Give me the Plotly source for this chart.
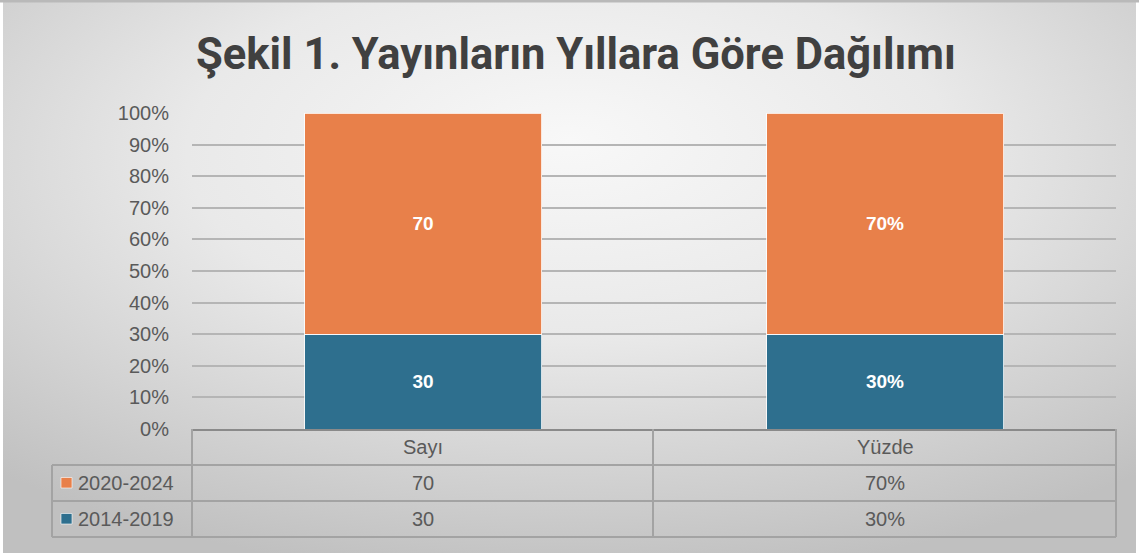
import base64
import plotly.graph_objects as go

# ---- data ----
categories = ["Sayı", "Yüzde"]
series_names = ["2014-2019", "2020-2024"]
values_2014_2019 = [30, 30]
values_2020_2024 = [70, 70]
label_suffix = ["", "%"]
title_text = "Şekil 1. Yayınların Yıllara Göre Dağılımı"
colors = {"2014-2019": "#2E6F8E", "2020-2024": "#E8804A"}

W, H = 1139, 559
L, R, T, B = 192, 23, 113, 130
PW, PH = W - L - R, H - T - B

def px2x(px):
    return (px - L) / PW

def py2y(py):
    return (H - B - py) / PH

totals = [a + b for a, b in zip(values_2014_2019, values_2020_2024)]
series = {"2014-2019": values_2014_2019, "2020-2024": values_2020_2024}

fig = go.Figure()
for name in series_names:
    vals = series[name]
    shares = [v / t for v, t in zip(vals, totals)]
    fig.add_trace(go.Bar(
        x=categories, y=shares, name=name,
        marker=dict(color=colors[name], line=dict(color="rgba(255,255,255,0.8)", width=1)),
        text=[f"{v}{s}" for v, s in zip(vals, label_suffix)],
        textposition="inside", insidetextanchor="middle",
        textfont=dict(family="Liberation Sans, Arial", size=19, color="white", weight="bold"),
        width=0.513, showlegend=False, hoverinfo="skip",
    ))

# background gradient as svg
svg = f'''<svg xmlns="http://www.w3.org/2000/svg" width="1133" height="551" viewBox="0 0 1133 551">
<defs><radialGradient id="g" cx="50%" cy="30%" r="75%" fx="50%" fy="25%">
<stop offset="0" stop-color="#f8f8f8"/><stop offset="0.45" stop-color="#e9e9e9"/>
<stop offset="1" stop-color="#c0c0c0"/></radialGradient></defs>
<rect width="1133" height="551" fill="url(#g)"/></svg>'''
src = "data:image/svg+xml;base64," + base64.b64encode(svg.encode()).decode()
fig.add_layout_image(dict(source=src, xref="paper", yref="paper",
                          x=px2x(3), y=py2y(2), sizex=px2x(1136) - px2x(3),
                          sizey=py2y(2) - py2y(553), sizing="stretch",
                          xanchor="left", yanchor="top", layer="below"))

shapes = []
# top border strip
shapes.append(dict(type="rect", xref="paper", yref="paper", x0=px2x(0), x1=px2x(1139),
                   y0=py2y(2.5), y1=py2y(0), fillcolor="#b9b9b9", line_width=0, layer="below"))

gc = "#a3a3a3"
def hline(y, x0, x1, color=gc, w=2):
    shapes.append(dict(type="line", xref="paper", yref="paper", x0=px2x(x0), x1=px2x(x1),
                       y0=py2y(y), y1=py2y(y), line=dict(color=color, width=w)))
def vline(x, y0, y1, color=gc, w=2):
    shapes.append(dict(type="line", xref="paper", yref="paper", x0=px2x(x), x1=px2x(x),
                       y0=py2y(y0), y1=py2y(y1), line=dict(color=color, width=w)))

row_tops = [429, 465, 501, 537]
for y in row_tops[1:]:
    hline(y, 52, 1116)
vline(192, 429, 537)
vline(653, 429, 537)
vline(1116, 429, 537)
vline(52, 465, 537)

annotations = []
tf = dict(family="Liberation Sans, Arial", size=20, color="#5a5a5a")
for i, c in enumerate(categories):
    annotations.append(dict(x=c, xref="x", y=py2y(447), yref="paper", text=c,
                            showarrow=False, font=tf, xanchor="center", yanchor="middle"))
row_series = ["2020-2024", "2014-2019"]
row_centers = [483, 519]
for name, yc in zip(row_series, row_centers):
    for c, v, s in zip(categories, series[name], label_suffix):
        annotations.append(dict(x=c, xref="x", y=py2y(yc), yref="paper", text=f"{v}{s}",
                                showarrow=False, font=tf, xanchor="center", yanchor="middle"))
    annotations.append(dict(x=px2x(76), xref="paper", y=py2y(yc), yref="paper", text=name,
                            showarrow=False, font=tf, xanchor="left", yanchor="middle"))
    shapes.append(dict(type="rect", xref="paper", yref="paper", x0=px2x(61), x1=px2x(72),
                       y0=py2y(yc - 5.5), y1=py2y(yc + 5), fillcolor=colors[name],
                       line=dict(color="rgba(255,255,255,0.6)", width=1)))

fig.update_layout(
    width=W, height=H,
    margin=dict(l=L, r=R, t=T, b=B),
    barmode="stack",
    paper_bgcolor="white",
    plot_bgcolor="rgba(0,0,0,0)",
    title=dict(text=title_text, x=576 / W, xref="container", xanchor="center",
               y=1 - 54 / H, yref="container", yanchor="middle",
               font=dict(family="Roboto", size=43.5, color="#404040", weight="bold")),
    xaxis=dict(showticklabels=False, ticks="", showline=True, linecolor="#8a8a8a", linewidth=2,
               showgrid=False, zeroline=False, range=[-0.5, 1.5]),
    yaxis=dict(range=[0, 1], dtick=0.1, tickformat=".0%", showgrid=True, gridcolor="#b5b5b5",
               gridwidth=1.5, zeroline=False, showline=False, ticklabelstandoff=22,
               tickfont=dict(family="Liberation Sans, Arial", size=20, color="#5a5a5a")),
    shapes=shapes, annotations=annotations,
    bargap=0.487,
)

fig.write_html("out.html", config={"displayModeBar": False},
               post_script="document.body.style.margin='0';document.body.style.overflow='hidden';")
